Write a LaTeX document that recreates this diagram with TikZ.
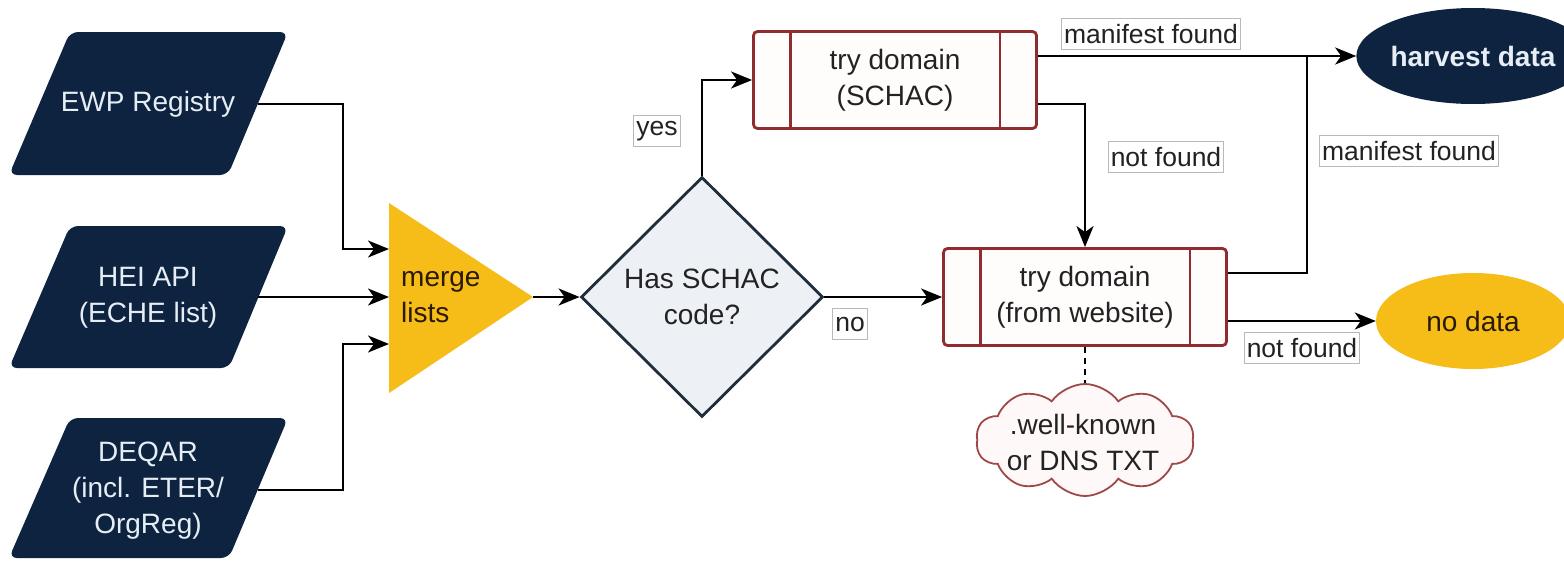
\documentclass[tikz,border=0pt]{standalone}
\usepackage{fontspec}
\setmainfont{Liberation Sans}
\usetikzlibrary{shapes.geometric,shapes.symbols,arrows.meta}
\definecolor{navy}{HTML}{0D2340}
\definecolor{gold}{HTML}{F6BC18}
\definecolor{decfill}{HTML}{EDF1F6}
\definecolor{decline}{HTML}{1F2D3D}
\definecolor{boxred}{HTML}{902B2F}
\definecolor{boxfill}{HTML}{FFFCFC}
\definecolor{cloudred}{HTML}{A04848}
\definecolor{cloudfill}{HTML}{FFF8F8}
\definecolor{lighttext}{HTML}{E6EDF5}
\definecolor{darktext}{HTML}{222222}
\definecolor{goldtext}{HTML}{2A1A00}
\begin{document}
\begin{tikzpicture}[x=1pt,y=-1pt,
  bigfont/.style={font=\fontsize{28}{36}\selectfont},
  para/.style={fill=navy, rounded corners=8pt},
  paratext/.style={bigfont, text=lighttext, align=center, inner sep=0pt},
  conn/.style={line width=2.4pt, draw=black, -{Stealth[length=21pt,width=17pt,inset=6pt]}},
  plain/.style={line width=2.4pt, draw=black},
  procbox/.style={draw=boxred, fill=boxfill, line width=2.8pt, rounded corners=4pt,
    minimum width=283pt, minimum height=97pt, bigfont, text=darktext, align=center, inner sep=0pt},
  lbl/.style={draw=gray!55, fill=white, line width=1pt, text=darktext,
    font=\fontsize{26.5}{30}\selectfont, inner xsep=2.5pt, inner ysep=0pt, minimum height=31pt},
  term/.style={ellipse, minimum width=194pt, minimum height=96pt, inner sep=0pt, bigfont}
]
\useasboundingbox (0,0) rectangle (1564,562);

% sources
\path[para] (70,32) -- (288,32) -- (228,175) -- (9,175) -- cycle;
\path[para] (70,226) -- (288,226) -- (229,368) -- (9,368) -- cycle;
\path[para] (70,418) -- (288,418) -- (229,558) -- (9,558) -- cycle;
\node[paratext] (ewp) at (148,104) {EWP Registry};
\node[paratext] (hei) at (148,298) {HEI API\\(ECHE list)};
\node[paratext] (deqar) at (148,491) {DEQAR\\(incl. ETER/\\OrgReg)};
\coordinate (ewpo) at (258,104);
\coordinate (heio) at (258,297);
\coordinate (deqo) at (258,490);

% merge triangle
\path[fill=gold] (389,203) -- (533,297) -- (389,393) -- cycle;
\node[bigfont, text=goldtext, align=left, anchor=west, inner sep=0pt] (merge) at (401,297) {merge\\lists};
\coordinate (min1) at (389,249);
\coordinate (min2) at (389,297);
\coordinate (min3) at (389,344);
\coordinate (mout) at (533,297);

% decision
\node[diamond, draw=decline, fill=decfill, line width=2.8pt, minimum width=242pt, minimum height=240pt,
  inner sep=0pt, bigfont, text=darktext, align=center] (dec) at (702,297) {Has SCHAC\\code?};

% process boxes
\node[procbox] (schac) at (895,80) {try domain\\(SCHAC)};
\node[procbox] (web) at (1085,297) {try domain\\(from website)};
\foreach \b in {schac,web}{
  \draw[boxred, line width=2.8pt] ([xshift=38pt]\b.north west) -- ([xshift=38pt]\b.south west);
  \draw[boxred, line width=2.8pt] ([xshift=-38pt]\b.north east) -- ([xshift=-38pt]\b.south east);
}

% terminals
\node[term, fill=navy, text=lighttext, font=\fontsize{28}{36}\selectfont\bfseries] (harvest) at (1473,56) {harvest data};
\node[term, fill=gold, text=goldtext] (nodata) at (1473,321) {no data};

% cloud
\node[cloud, cloud puffs=10, cloud puff arc=110, aspect=1.9, draw=cloudred, fill=cloudfill, line width=1.8pt,
  minimum width=218pt, minimum height=112pt, inner sep=0pt] (cloud) at (1085,440) {};
\node[bigfont, text=darktext, align=center, inner sep=0pt] (cloudtxt) at (1083,442) {.well-known\\or DNS TXT};

% connectors
\draw[conn] (ewpo) -- ++(85,0) |- (min1);
\draw[conn] (heio) -- (min2);
\draw[conn] (deqo) -- ++(85,0) |- (min3);
\draw[conn] (mout) -- (dec.west);
\draw[conn] (dec.north) |- (schac.west);
\draw[conn] (dec.east) -- (web.west);
\draw[conn] ([yshift=24pt]schac.east) -- (harvest.west);
\draw[conn] ([yshift=-24pt]schac.east) -| (web.north);
\coordinate (junc) at (1307,56);
\draw[plain] ([yshift=24pt]web.east) -| (junc);
\draw[conn] ([yshift=-24pt]web.east) -- (nodata.west);
\draw[line width=1.8pt, dashed, dash pattern=on 6pt off 5pt] (web.south) -- (cloud.north);

% labels
\node[lbl] (lyes) at (657,131) {yes};
\node[lbl] (lno) at (850,324) {no};
\node[lbl] (lmf1) at (1151,34) {manifest found};
\node[lbl] (lnf1) at (1166,157) {not found};
\node[lbl] (lmf2) at (1409,151) {manifest found};
\node[lbl] (lnf2) at (1302,348) {not found};
\end{tikzpicture}
\end{document}
